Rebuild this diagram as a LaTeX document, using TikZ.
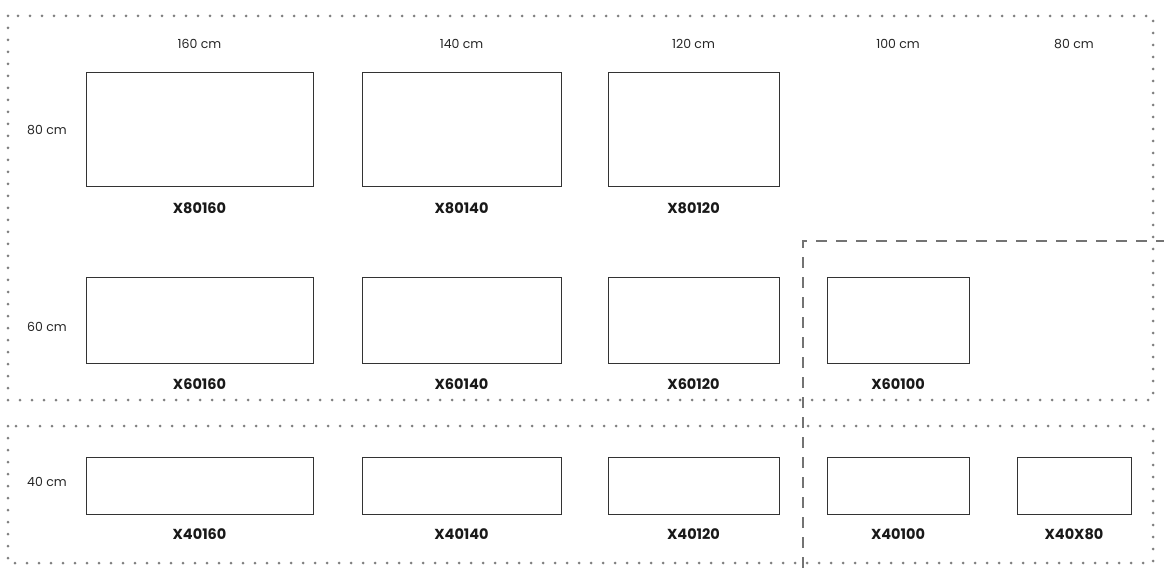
\documentclass[tikz,border=0pt]{standalone}
\usepackage{fontspec}
\setmainfont{Poppins}
\begin{document}
\begin{tikzpicture}[x=1pt,y=-1pt,
  tbl/.style={draw=black!80,line width=1pt,minimum width=#1,inner sep=0pt},
  code/.style={font=\bfseries\fontsize{14.5}{16}\selectfont,text=black!90,inner sep=0pt},
  dim/.style={font=\fontsize{12.5}{14}\selectfont,text=black!85,inner sep=0pt},
  dotline/.style={draw=black!50,line width=3pt,line cap=round,dash pattern=on 0pt off 12pt},
  dashline/.style={draw=black!55,line width=1.8pt,dash pattern=on 11pt off 9pt}]
\useasboundingbox (0,0) rectangle (1164,577);
% frames
\coordinate (a1) at (8,16);
\coordinate (a2) at (1153,400);
\coordinate (b1) at (8,426);
\coordinate (b2) at (1153,563);
\draw[dotline] (a1) rectangle (a2);
\draw[dotline] (b1) rectangle (b2);
\coordinate (d0) at (803,568);
\coordinate (d1) at (803,241);
\coordinate (d2) at (1164,241);
\draw[dashline] (d0) -- (d1) -- (d2);
% width labels
\node[dim] (w160) at (199.5,44) {160 cm};
\node[dim] (w140) at (461.5,44) {140 cm};
\node[dim] (w120) at (693.5,44) {120 cm};
\node[dim] (w100) at (898,44) {100 cm};
\node[dim] (w80) at (1074,44) {80 cm};
% height labels
\node[dim] (h80) at (47,130) {80 cm};
\node[dim] (h60) at (47,327) {60 cm};
\node[dim] (h40) at (47,482) {40 cm};
% row 80
\node[tbl=227pt,minimum height=114pt] (r80160) at (199.5,130) {};
\node[tbl=199pt,minimum height=114pt] (r80140) at (461.5,130) {};
\node[tbl=171pt,minimum height=114pt] (r80120) at (693.5,130) {};
\node[code] (l80160) at (199.5,208) {X80160};
\node[code] (l80140) at (461.5,208) {X80140};
\node[code] (l80120) at (693.5,208) {X80120};
% row 60
\node[tbl=227pt,minimum height=85pt] (r60160) at (199.5,320.5) {};
\node[tbl=199pt,minimum height=85pt] (r60140) at (461.5,320.5) {};
\node[tbl=171pt,minimum height=85pt] (r60120) at (693.5,320.5) {};
\node[tbl=142pt,minimum height=85pt] (r60100) at (898,320.5) {};
\node[code] (l60160) at (199.5,384) {X60160};
\node[code] (l60140) at (461.5,384) {X60140};
\node[code] (l60120) at (693.5,384) {X60120};
\node[code] (l60100) at (898,384) {X60100};
% row 40
\node[tbl=227pt,minimum height=57pt] (r40160) at (199.5,485.5) {};
\node[tbl=199pt,minimum height=57pt] (r40140) at (461.5,485.5) {};
\node[tbl=171pt,minimum height=57pt] (r40120) at (693.5,485.5) {};
\node[tbl=142pt,minimum height=57pt] (r40100) at (898,485.5) {};
\node[tbl=114pt,minimum height=57pt] (r4080) at (1074,485.5) {};
\node[code] (l40160) at (199.5,534) {X40160};
\node[code] (l40140) at (461.5,534) {X40140};
\node[code] (l40120) at (693.5,534) {X40120};
\node[code] (l40100) at (898,534) {X40100};
\node[code] (l4080) at (1074,534) {X40X80};
\end{tikzpicture}
\end{document}
